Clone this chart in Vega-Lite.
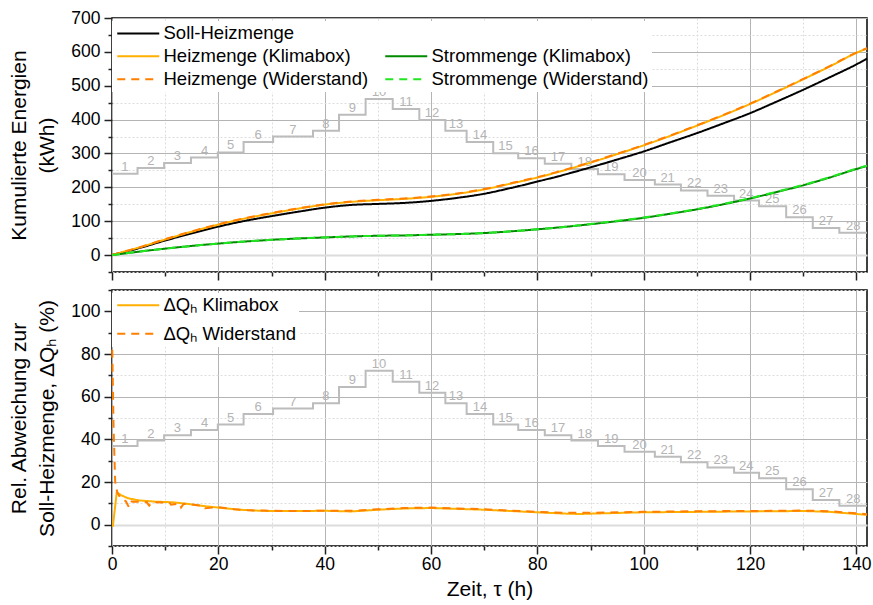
{
  "$schema": "https://vega.github.io/schema/vega-lite/v6.json",
  "background": "white",
  "autosize": {"type": "pad"},
  "padding": {"left": 8, "top": 8, "right": 2, "bottom": 6},
  "config": {
    "font": "Liberation Sans",
    "view": {"stroke": "black", "strokeWidth": 1.5},
    "axis": {
      "labelFont": "Liberation Sans", "labelFontSize": 17.5, "labelColor": "black",
      "titleFont": "Liberation Sans", "titleFontSize": 21, "titleFontWeight": "normal", "titleColor": "black",
      "tickColor": "#222222", "tickWidth": 1.5, "domain": false, "labelPadding": 4, "titleLineHeight": 28
    },
    "legend": {"labelFont": "Liberation Sans", "labelFontSize": 18.5, "labelColor": "black"}
  },
  "datasets": {
    "stufen": [
      {"stufe": 1, "t": 0, "t_mitte": 2.4, "oben": 240, "unten": 36.9},
      {"stufe": 2, "t": 4.8, "t_mitte": 7.3, "oben": 257, "unten": 39.4},
      {"stufe": 3, "t": 9.8, "t_mitte": 12.3, "oben": 272, "unten": 41.9},
      {"stufe": 4, "t": 14.85, "t_mitte": 17.4, "oben": 288, "unten": 44.4},
      {"stufe": 5, "t": 19.9, "t_mitte": 22.3, "oben": 303, "unten": 46.9},
      {"stufe": 6, "t": 24.75, "t_mitte": 27.5, "oben": 334, "unten": 51.9},
      {"stufe": 7, "t": 30.3, "t_mitte": 34.0, "oben": 350, "unten": 54.4},
      {"stufe": 8, "t": 37.8, "t_mitte": 40.2, "oben": 367, "unten": 56.9},
      {"stufe": 9, "t": 42.7, "t_mitte": 45.2, "oben": 414, "unten": 64.5},
      {"stufe": 10, "t": 47.7, "t_mitte": 50.2, "oben": 461, "unten": 72.2},
      {"stufe": 11, "t": 52.8, "t_mitte": 55.3, "oben": 431, "unten": 67.0},
      {"stufe": 12, "t": 57.8, "t_mitte": 60.2, "oben": 399, "unten": 61.8},
      {"stufe": 13, "t": 62.7, "t_mitte": 64.7, "oben": 367, "unten": 56.9},
      {"stufe": 14, "t": 66.7, "t_mitte": 69.2, "oben": 334, "unten": 51.9},
      {"stufe": 15, "t": 71.7, "t_mitte": 74.0, "oben": 301, "unten": 46.9},
      {"stufe": 16, "t": 76.4, "t_mitte": 78.9, "oben": 286, "unten": 44.4},
      {"stufe": 17, "t": 81.4, "t_mitte": 83.9, "oben": 270, "unten": 41.9},
      {"stufe": 18, "t": 86.4, "t_mitte": 88.9, "oben": 254, "unten": 39.4},
      {"stufe": 19, "t": 91.4, "t_mitte": 93.9, "oben": 239, "unten": 36.9},
      {"stufe": 20, "t": 96.4, "t_mitte": 99.2, "oben": 222, "unten": 34.2},
      {"stufe": 21, "t": 102.1, "t_mitte": 104.5, "oben": 208, "unten": 31.8},
      {"stufe": 22, "t": 107.0, "t_mitte": 109.5, "oben": 191, "unten": 29.3},
      {"stufe": 23, "t": 112.0, "t_mitte": 114.5, "oben": 175, "unten": 26.8},
      {"stufe": 24, "t": 117.0, "t_mitte": 119.3, "oben": 161, "unten": 24.3},
      {"stufe": 25, "t": 121.7, "t_mitte": 124.2, "oben": 144, "unten": 21.8},
      {"stufe": 26, "t": 126.8, "t_mitte": 129.3, "oben": 112, "unten": 16.6},
      {"stufe": 27, "t": 131.8, "t_mitte": 134.3, "oben": 80, "unten": 11.6},
      {"stufe": 28, "t": 136.8, "t_mitte": 139.4, "oben": 66, "unten": 8.9},
      {"stufe": null, "t": 142, "t_mitte": null, "oben": 66, "unten": 8.9}
    ],
    "energie": [
      {"reihe": "Soll-Heizmenge", "t": 0, "wert": 0},
      {"reihe": "Soll-Heizmenge", "t": 2, "wert": 8},
      {"reihe": "Soll-Heizmenge", "t": 5, "wert": 20},
      {"reihe": "Soll-Heizmenge", "t": 10, "wert": 43},
      {"reihe": "Soll-Heizmenge", "t": 15, "wert": 64},
      {"reihe": "Soll-Heizmenge", "t": 20, "wert": 84},
      {"reihe": "Soll-Heizmenge", "t": 25, "wert": 101},
      {"reihe": "Soll-Heizmenge", "t": 30, "wert": 115},
      {"reihe": "Soll-Heizmenge", "t": 35, "wert": 128},
      {"reihe": "Soll-Heizmenge", "t": 40, "wert": 140},
      {"reihe": "Soll-Heizmenge", "t": 45, "wert": 148},
      {"reihe": "Soll-Heizmenge", "t": 50, "wert": 151},
      {"reihe": "Soll-Heizmenge", "t": 55, "wert": 154},
      {"reihe": "Soll-Heizmenge", "t": 60, "wert": 160},
      {"reihe": "Soll-Heizmenge", "t": 65, "wert": 169},
      {"reihe": "Soll-Heizmenge", "t": 70, "wert": 181},
      {"reihe": "Soll-Heizmenge", "t": 75, "wert": 198},
      {"reihe": "Soll-Heizmenge", "t": 80, "wert": 217},
      {"reihe": "Soll-Heizmenge", "t": 85, "wert": 237},
      {"reihe": "Soll-Heizmenge", "t": 90, "wert": 259},
      {"reihe": "Soll-Heizmenge", "t": 95, "wert": 282},
      {"reihe": "Soll-Heizmenge", "t": 100, "wert": 306},
      {"reihe": "Soll-Heizmenge", "t": 105, "wert": 333},
      {"reihe": "Soll-Heizmenge", "t": 110, "wert": 360},
      {"reihe": "Soll-Heizmenge", "t": 115, "wert": 389},
      {"reihe": "Soll-Heizmenge", "t": 120, "wert": 419},
      {"reihe": "Soll-Heizmenge", "t": 125, "wert": 453},
      {"reihe": "Soll-Heizmenge", "t": 130, "wert": 488},
      {"reihe": "Soll-Heizmenge", "t": 135, "wert": 525},
      {"reihe": "Soll-Heizmenge", "t": 140, "wert": 563},
      {"reihe": "Soll-Heizmenge", "t": 142, "wert": 580},
      {"reihe": "Heizmenge (Klimabox)", "t": 0, "wert": 0},
      {"reihe": "Heizmenge (Klimabox)", "t": 2, "wert": 9},
      {"reihe": "Heizmenge (Klimabox)", "t": 5, "wert": 22},
      {"reihe": "Heizmenge (Klimabox)", "t": 10, "wert": 46},
      {"reihe": "Heizmenge (Klimabox)", "t": 15, "wert": 69},
      {"reihe": "Heizmenge (Klimabox)", "t": 20, "wert": 90},
      {"reihe": "Heizmenge (Klimabox)", "t": 25, "wert": 108},
      {"reihe": "Heizmenge (Klimabox)", "t": 30, "wert": 123},
      {"reihe": "Heizmenge (Klimabox)", "t": 35, "wert": 137},
      {"reihe": "Heizmenge (Klimabox)", "t": 40, "wert": 149},
      {"reihe": "Heizmenge (Klimabox)", "t": 45, "wert": 157},
      {"reihe": "Heizmenge (Klimabox)", "t": 50, "wert": 162},
      {"reihe": "Heizmenge (Klimabox)", "t": 55, "wert": 166},
      {"reihe": "Heizmenge (Klimabox)", "t": 60, "wert": 172},
      {"reihe": "Heizmenge (Klimabox)", "t": 65, "wert": 181},
      {"reihe": "Heizmenge (Klimabox)", "t": 70, "wert": 194},
      {"reihe": "Heizmenge (Klimabox)", "t": 75, "wert": 211},
      {"reihe": "Heizmenge (Klimabox)", "t": 80, "wert": 229},
      {"reihe": "Heizmenge (Klimabox)", "t": 85, "wert": 250},
      {"reihe": "Heizmenge (Klimabox)", "t": 90, "wert": 273},
      {"reihe": "Heizmenge (Klimabox)", "t": 95, "wert": 298},
      {"reihe": "Heizmenge (Klimabox)", "t": 100, "wert": 324},
      {"reihe": "Heizmenge (Klimabox)", "t": 105, "wert": 352},
      {"reihe": "Heizmenge (Klimabox)", "t": 110, "wert": 382},
      {"reihe": "Heizmenge (Klimabox)", "t": 115, "wert": 413},
      {"reihe": "Heizmenge (Klimabox)", "t": 120, "wert": 446},
      {"reihe": "Heizmenge (Klimabox)", "t": 125, "wert": 482},
      {"reihe": "Heizmenge (Klimabox)", "t": 130, "wert": 519},
      {"reihe": "Heizmenge (Klimabox)", "t": 135, "wert": 557},
      {"reihe": "Heizmenge (Klimabox)", "t": 140, "wert": 597},
      {"reihe": "Heizmenge (Klimabox)", "t": 142, "wert": 610},
      {"reihe": "Strommenge (Klimabox)", "t": 0, "wert": 0},
      {"reihe": "Strommenge (Klimabox)", "t": 2, "wert": 4},
      {"reihe": "Strommenge (Klimabox)", "t": 5, "wert": 10},
      {"reihe": "Strommenge (Klimabox)", "t": 10, "wert": 19},
      {"reihe": "Strommenge (Klimabox)", "t": 15, "wert": 27},
      {"reihe": "Strommenge (Klimabox)", "t": 20, "wert": 34},
      {"reihe": "Strommenge (Klimabox)", "t": 25, "wert": 40},
      {"reihe": "Strommenge (Klimabox)", "t": 30, "wert": 45},
      {"reihe": "Strommenge (Klimabox)", "t": 35, "wert": 49},
      {"reihe": "Strommenge (Klimabox)", "t": 40, "wert": 52},
      {"reihe": "Strommenge (Klimabox)", "t": 45, "wert": 55},
      {"reihe": "Strommenge (Klimabox)", "t": 50, "wert": 57},
      {"reihe": "Strommenge (Klimabox)", "t": 55, "wert": 58},
      {"reihe": "Strommenge (Klimabox)", "t": 60, "wert": 60},
      {"reihe": "Strommenge (Klimabox)", "t": 65, "wert": 62},
      {"reihe": "Strommenge (Klimabox)", "t": 70, "wert": 65},
      {"reihe": "Strommenge (Klimabox)", "t": 75, "wert": 70},
      {"reihe": "Strommenge (Klimabox)", "t": 80, "wert": 76},
      {"reihe": "Strommenge (Klimabox)", "t": 85, "wert": 83},
      {"reihe": "Strommenge (Klimabox)", "t": 90, "wert": 91},
      {"reihe": "Strommenge (Klimabox)", "t": 95, "wert": 100},
      {"reihe": "Strommenge (Klimabox)", "t": 100, "wert": 110},
      {"reihe": "Strommenge (Klimabox)", "t": 105, "wert": 122},
      {"reihe": "Strommenge (Klimabox)", "t": 110, "wert": 135},
      {"reihe": "Strommenge (Klimabox)", "t": 115, "wert": 150},
      {"reihe": "Strommenge (Klimabox)", "t": 120, "wert": 167},
      {"reihe": "Strommenge (Klimabox)", "t": 125, "wert": 186},
      {"reihe": "Strommenge (Klimabox)", "t": 130, "wert": 206},
      {"reihe": "Strommenge (Klimabox)", "t": 135, "wert": 229},
      {"reihe": "Strommenge (Klimabox)", "t": 140, "wert": 254},
      {"reihe": "Strommenge (Klimabox)", "t": 142, "wert": 263},
      {"reihe": "Heizmenge (Widerstand)", "t": 0, "wert": 0},
      {"reihe": "Heizmenge (Widerstand)", "t": 2, "wert": 9},
      {"reihe": "Heizmenge (Widerstand)", "t": 5, "wert": 22},
      {"reihe": "Heizmenge (Widerstand)", "t": 10, "wert": 47},
      {"reihe": "Heizmenge (Widerstand)", "t": 15, "wert": 70},
      {"reihe": "Heizmenge (Widerstand)", "t": 20, "wert": 91},
      {"reihe": "Heizmenge (Widerstand)", "t": 25, "wert": 109},
      {"reihe": "Heizmenge (Widerstand)", "t": 30, "wert": 124},
      {"reihe": "Heizmenge (Widerstand)", "t": 35, "wert": 138},
      {"reihe": "Heizmenge (Widerstand)", "t": 40, "wert": 150},
      {"reihe": "Heizmenge (Widerstand)", "t": 45, "wert": 158},
      {"reihe": "Heizmenge (Widerstand)", "t": 50, "wert": 163},
      {"reihe": "Heizmenge (Widerstand)", "t": 55, "wert": 167},
      {"reihe": "Heizmenge (Widerstand)", "t": 60, "wert": 173},
      {"reihe": "Heizmenge (Widerstand)", "t": 65, "wert": 182},
      {"reihe": "Heizmenge (Widerstand)", "t": 70, "wert": 195},
      {"reihe": "Heizmenge (Widerstand)", "t": 75, "wert": 212},
      {"reihe": "Heizmenge (Widerstand)", "t": 80, "wert": 230},
      {"reihe": "Heizmenge (Widerstand)", "t": 85, "wert": 251},
      {"reihe": "Heizmenge (Widerstand)", "t": 90, "wert": 274},
      {"reihe": "Heizmenge (Widerstand)", "t": 95, "wert": 299},
      {"reihe": "Heizmenge (Widerstand)", "t": 100, "wert": 325},
      {"reihe": "Heizmenge (Widerstand)", "t": 105, "wert": 353},
      {"reihe": "Heizmenge (Widerstand)", "t": 110, "wert": 383},
      {"reihe": "Heizmenge (Widerstand)", "t": 115, "wert": 414},
      {"reihe": "Heizmenge (Widerstand)", "t": 120, "wert": 447},
      {"reihe": "Heizmenge (Widerstand)", "t": 125, "wert": 483},
      {"reihe": "Heizmenge (Widerstand)", "t": 130, "wert": 520},
      {"reihe": "Heizmenge (Widerstand)", "t": 135, "wert": 558},
      {"reihe": "Heizmenge (Widerstand)", "t": 140, "wert": 598},
      {"reihe": "Heizmenge (Widerstand)", "t": 142, "wert": 611},
      {"reihe": "Strommenge (Widerstand)", "t": 0, "wert": 0},
      {"reihe": "Strommenge (Widerstand)", "t": 2, "wert": 4},
      {"reihe": "Strommenge (Widerstand)", "t": 5, "wert": 10},
      {"reihe": "Strommenge (Widerstand)", "t": 10, "wert": 19},
      {"reihe": "Strommenge (Widerstand)", "t": 15, "wert": 27},
      {"reihe": "Strommenge (Widerstand)", "t": 20, "wert": 34},
      {"reihe": "Strommenge (Widerstand)", "t": 25, "wert": 40},
      {"reihe": "Strommenge (Widerstand)", "t": 30, "wert": 45},
      {"reihe": "Strommenge (Widerstand)", "t": 35, "wert": 49},
      {"reihe": "Strommenge (Widerstand)", "t": 40, "wert": 52},
      {"reihe": "Strommenge (Widerstand)", "t": 45, "wert": 55},
      {"reihe": "Strommenge (Widerstand)", "t": 50, "wert": 57},
      {"reihe": "Strommenge (Widerstand)", "t": 55, "wert": 58},
      {"reihe": "Strommenge (Widerstand)", "t": 60, "wert": 60},
      {"reihe": "Strommenge (Widerstand)", "t": 65, "wert": 62},
      {"reihe": "Strommenge (Widerstand)", "t": 70, "wert": 65},
      {"reihe": "Strommenge (Widerstand)", "t": 75, "wert": 70},
      {"reihe": "Strommenge (Widerstand)", "t": 80, "wert": 76},
      {"reihe": "Strommenge (Widerstand)", "t": 85, "wert": 83},
      {"reihe": "Strommenge (Widerstand)", "t": 90, "wert": 92},
      {"reihe": "Strommenge (Widerstand)", "t": 95, "wert": 101},
      {"reihe": "Strommenge (Widerstand)", "t": 100, "wert": 111},
      {"reihe": "Strommenge (Widerstand)", "t": 105, "wert": 123},
      {"reihe": "Strommenge (Widerstand)", "t": 110, "wert": 136},
      {"reihe": "Strommenge (Widerstand)", "t": 115, "wert": 151},
      {"reihe": "Strommenge (Widerstand)", "t": 120, "wert": 168},
      {"reihe": "Strommenge (Widerstand)", "t": 125, "wert": 187},
      {"reihe": "Strommenge (Widerstand)", "t": 130, "wert": 207},
      {"reihe": "Strommenge (Widerstand)", "t": 135, "wert": 230},
      {"reihe": "Strommenge (Widerstand)", "t": 140, "wert": 255},
      {"reihe": "Strommenge (Widerstand)", "t": 142, "wert": 264}
    ],
    "abweichung": [
      {"reihe": "ΔQₕ Klimabox", "t": 0.15, "wert": -1},
      {"reihe": "ΔQₕ Klimabox", "t": 0.9, "wert": 15.2},
      {"reihe": "ΔQₕ Klimabox", "t": 1.7, "wert": 13.8},
      {"reihe": "ΔQₕ Klimabox", "t": 3, "wert": 12.4},
      {"reihe": "ΔQₕ Klimabox", "t": 5, "wert": 11.4},
      {"reihe": "ΔQₕ Klimabox", "t": 8, "wert": 10.8},
      {"reihe": "ΔQₕ Klimabox", "t": 11.4, "wert": 10.5},
      {"reihe": "ΔQₕ Klimabox", "t": 14, "wert": 9.8},
      {"reihe": "ΔQₕ Klimabox", "t": 17.7, "wert": 8.6},
      {"reihe": "ΔQₕ Klimabox", "t": 20.8, "wert": 7.8},
      {"reihe": "ΔQₕ Klimabox", "t": 24, "wert": 7.0},
      {"reihe": "ΔQₕ Klimabox", "t": 27, "wert": 6.6},
      {"reihe": "ΔQₕ Klimabox", "t": 30, "wert": 6.4},
      {"reihe": "ΔQₕ Klimabox", "t": 35, "wert": 6.4},
      {"reihe": "ΔQₕ Klimabox", "t": 40, "wert": 6.5},
      {"reihe": "ΔQₕ Klimabox", "t": 45, "wert": 6.2},
      {"reihe": "ΔQₕ Klimabox", "t": 50, "wert": 7.0},
      {"reihe": "ΔQₕ Klimabox", "t": 55, "wert": 7.6},
      {"reihe": "ΔQₕ Klimabox", "t": 60, "wert": 7.8},
      {"reihe": "ΔQₕ Klimabox", "t": 65, "wert": 7.4},
      {"reihe": "ΔQₕ Klimabox", "t": 70, "wert": 7.0},
      {"reihe": "ΔQₕ Klimabox", "t": 75, "wert": 6.4},
      {"reihe": "ΔQₕ Klimabox", "t": 80, "wert": 5.8},
      {"reihe": "ΔQₕ Klimabox", "t": 85, "wert": 5.2},
      {"reihe": "ΔQₕ Klimabox", "t": 88, "wert": 5.0},
      {"reihe": "ΔQₕ Klimabox", "t": 92, "wert": 5.3},
      {"reihe": "ΔQₕ Klimabox", "t": 100, "wert": 5.8},
      {"reihe": "ΔQₕ Klimabox", "t": 110, "wert": 6.0},
      {"reihe": "ΔQₕ Klimabox", "t": 120, "wert": 6.2},
      {"reihe": "ΔQₕ Klimabox", "t": 130, "wert": 6.4},
      {"reihe": "ΔQₕ Klimabox", "t": 135, "wert": 6.0},
      {"reihe": "ΔQₕ Klimabox", "t": 140, "wert": 5.0},
      {"reihe": "ΔQₕ Klimabox", "t": 142, "wert": 4.6},
      {"reihe": "ΔQₕ Widerstand", "t": 0.05, "wert": 82},
      {"reihe": "ΔQₕ Widerstand", "t": 0.3, "wert": 45},
      {"reihe": "ΔQₕ Widerstand", "t": 0.6, "wert": 20},
      {"reihe": "ΔQₕ Widerstand", "t": 1, "wert": 15},
      {"reihe": "ΔQₕ Widerstand", "t": 1.6, "wert": 12.5},
      {"reihe": "ΔQₕ Widerstand", "t": 2.6, "wert": 11},
      {"reihe": "ΔQₕ Widerstand", "t": 3.2, "wert": 8.1},
      {"reihe": "ΔQₕ Widerstand", "t": 3.7, "wert": 10.8},
      {"reihe": "ΔQₕ Widerstand", "t": 6.5, "wert": 10.6},
      {"reihe": "ΔQₕ Widerstand", "t": 7, "wert": 8.9},
      {"reihe": "ΔQₕ Widerstand", "t": 7.5, "wert": 10.5},
      {"reihe": "ΔQₕ Widerstand", "t": 10.8, "wert": 10.3},
      {"reihe": "ΔQₕ Widerstand", "t": 11.1, "wert": 9.4},
      {"reihe": "ΔQₕ Widerstand", "t": 12.7, "wert": 9.9},
      {"reihe": "ΔQₕ Widerstand", "t": 13, "wert": 8.1},
      {"reihe": "ΔQₕ Widerstand", "t": 13.5, "wert": 9.8},
      {"reihe": "ΔQₕ Widerstand", "t": 17, "wert": 8.9},
      {"reihe": "ΔQₕ Widerstand", "t": 17.5, "wert": 7.7},
      {"reihe": "ΔQₕ Widerstand", "t": 20, "wert": 8.2},
      {"reihe": "ΔQₕ Widerstand", "t": 23, "wert": 7.2},
      {"reihe": "ΔQₕ Widerstand", "t": 26, "wert": 6.7},
      {"reihe": "ΔQₕ Widerstand", "t": 30, "wert": 6.5},
      {"reihe": "ΔQₕ Widerstand", "t": 35, "wert": 6.4},
      {"reihe": "ΔQₕ Widerstand", "t": 40, "wert": 6.5},
      {"reihe": "ΔQₕ Widerstand", "t": 45, "wert": 6.5},
      {"reihe": "ΔQₕ Widerstand", "t": 50, "wert": 7.2},
      {"reihe": "ΔQₕ Widerstand", "t": 55, "wert": 7.8},
      {"reihe": "ΔQₕ Widerstand", "t": 60, "wert": 8.0},
      {"reihe": "ΔQₕ Widerstand", "t": 65, "wert": 7.6},
      {"reihe": "ΔQₕ Widerstand", "t": 70, "wert": 7.2},
      {"reihe": "ΔQₕ Widerstand", "t": 75, "wert": 6.6},
      {"reihe": "ΔQₕ Widerstand", "t": 80, "wert": 6.0},
      {"reihe": "ΔQₕ Widerstand", "t": 85, "wert": 5.6},
      {"reihe": "ΔQₕ Widerstand", "t": 90, "wert": 5.6},
      {"reihe": "ΔQₕ Widerstand", "t": 100, "wert": 6.0},
      {"reihe": "ΔQₕ Widerstand", "t": 110, "wert": 6.3},
      {"reihe": "ΔQₕ Widerstand", "t": 120, "wert": 6.4},
      {"reihe": "ΔQₕ Widerstand", "t": 130, "wert": 6.6},
      {"reihe": "ΔQₕ Widerstand", "t": 135, "wert": 6.3},
      {"reihe": "ΔQₕ Widerstand", "t": 140, "wert": 5.3},
      {"reihe": "ΔQₕ Widerstand", "t": 142, "wert": 4.9}
    ]
  },
  "spacing": 18,
  "bounds": "flush",
  "resolve": {"scale": {"color": "independent", "strokeDash": "independent"}, "legend": {"color": "independent", "strokeDash": "independent"}},
  "vconcat": [
    {
      "width": 755,
      "height": 254,
      "resolve": {"axis": {"x": "independent", "y": "independent"}},
      "layer": [
        {
          "data": {"name": "stufen"},
          "mark": {"type": "line", "interpolate": "step-after", "color": "#bcbcbc", "strokeWidth": 2},
          "encoding": {
            "x": {"field": "t", "type": "quantitative", "scale": {"domain": [0, 142], "nice": false, "zero": false},
              "axis": {"orient": "bottom", "values": [10, 30, 50, 70, 90, 110, 130], "labels": false, "title": null, "tickSize": 4, "grid": true, "gridColor": "#dddddd", "gridDash": [2, 2], "gridWidth": 1}},
            "y": {"field": "oben", "type": "quantitative", "scale": {"domain": [-50, 700], "nice": false, "zero": false},
              "axis": {"orient": "left", "values": [-50, 50, 150, 250, 350, 450, 550, 650], "labels": false, "title": null, "tickSize": 4, "grid": true, "gridColor": "#dddddd", "gridDash": [2, 2], "gridWidth": 1}}
          }
        },
        {
          "data": {"name": "stufen"},
          "transform": [{"filter": "isValid(datum.stufe)"}],
          "mark": {"type": "text", "color": "#b4b4b4", "fontSize": 13, "baseline": "alphabetic", "dy": -3, "align": "center"},
          "encoding": {
            "x": {"field": "t_mitte", "type": "quantitative", "scale": {"domain": [0, 142], "nice": false, "zero": false}, "axis": null},
            "y": {"field": "oben", "type": "quantitative", "scale": {"domain": [-50, 700], "nice": false, "zero": false}, "axis": null},
            "text": {"field": "stufe", "type": "nominal"}
          }
        },
        {
          "data": {"name": "energie"},
          "mark": {"type": "line", "strokeWidth": 2, "interpolate": "monotone"},
          "encoding": {
            "x": {"field": "t", "type": "quantitative", "scale": {"domain": [0, 142], "nice": false, "zero": false},
              "axis": {"orient": "bottom", "values": [0, 20, 40, 60, 80, 100, 120, 140], "labels": false, "title": null, "tickSize": 8, "grid": true, "gridColor": "#b4b4b4", "gridWidth": 1}},
            "y": {"field": "wert", "type": "quantitative", "scale": {"domain": [-50, 700], "nice": false, "zero": false},
              "axis": {"orient": "left", "values": [0, 100, 200, 300, 400, 500, 600, 700], "title": ["Kumulierte Energien", "(kWh)"], "titlePadding": 13, "tickSize": 8, "grid": true,
                "gridColor": {"condition": {"test": "datum.value === 0", "value": "#dcdcdc"}, "value": "#b4b4b4"},
                "gridWidth": {"condition": {"test": "datum.value === 0", "value": 2}, "value": 1}}},
            "color": {"field": "reihe", "type": "nominal",
              "scale": {"domain": ["Soll-Heizmenge", "Heizmenge (Klimabox)", "Heizmenge (Widerstand)", " ", "Strommenge (Klimabox)", "Strommenge (Widerstand)"],
                "range": ["#000000", "#ffb000", "#ff7f00", "rgba(0,0,0,0)", "#008a00", "#22e622"]},
              "legend": {"title": null, "orient": "none", "legendX": 0, "legendY": 3, "columns": 2, "symbolType": "M-1,0H5", "symbolSize": 196, "symbolStrokeWidth": 2, "labelOffset": 30, "rowPadding": 4, "columnPadding": 12, "fillColor": "white", "padding": 3, "labelFontSize": 18.5, "labelLimit": 0}},
            "strokeDash": {"field": "reihe", "type": "nominal",
              "scale": {"domain": ["Soll-Heizmenge", "Heizmenge (Klimabox)", "Heizmenge (Widerstand)", " ", "Strommenge (Klimabox)", "Strommenge (Widerstand)"],
                "range": [[1, 0], [1, 0], [8, 6], [1, 0], [1, 0], [8, 6]]},
              "legend": {"title": null, "orient": "none", "legendX": 0, "legendY": 3, "columns": 2, "symbolType": "M-1,0H5", "symbolSize": 196, "symbolStrokeWidth": 2, "labelOffset": 30, "rowPadding": 4, "columnPadding": 12, "fillColor": "white", "padding": 3, "labelFontSize": 18.5, "labelLimit": 0}}
          }
        }
      ]
    },
    {
      "width": 755,
      "height": 256,
      "resolve": {"axis": {"x": "independent", "y": "independent"}},
      "layer": [
        {
          "data": {"name": "stufen"},
          "mark": {"type": "line", "interpolate": "step-after", "color": "#bcbcbc", "strokeWidth": 2},
          "encoding": {
            "x": {"field": "t", "type": "quantitative", "scale": {"domain": [0, 142], "nice": false, "zero": false},
              "axis": {"orient": "bottom", "values": [10, 30, 50, 70, 90, 110, 130], "labels": false, "title": null, "tickSize": 4, "grid": true, "gridColor": "#dddddd", "gridDash": [2, 2], "gridWidth": 1}},
            "y": {"field": "unten", "type": "quantitative", "scale": {"domain": [-10, 110], "nice": false, "zero": false},
              "axis": {"orient": "left", "values": [-10, 10, 30, 50, 70, 90, 110], "labels": false, "title": null, "tickSize": 4, "grid": true, "gridColor": "#dddddd", "gridDash": [2, 2], "gridWidth": 1}}
          }
        },
        {
          "data": {"name": "stufen"},
          "transform": [{"filter": "isValid(datum.stufe)"}],
          "mark": {"type": "text", "color": "#b4b4b4", "fontSize": 13, "baseline": "alphabetic", "dy": -3, "align": "center"},
          "encoding": {
            "x": {"field": "t_mitte", "type": "quantitative", "scale": {"domain": [0, 142], "nice": false, "zero": false}, "axis": null},
            "y": {"field": "unten", "type": "quantitative", "scale": {"domain": [-10, 110], "nice": false, "zero": false}, "axis": null},
            "text": {"field": "stufe", "type": "nominal"}
          }
        },
        {
          "data": {"name": "abweichung"},
          "mark": {"type": "line", "strokeWidth": 2},
          "encoding": {
            "x": {"field": "t", "type": "quantitative", "scale": {"domain": [0, 142], "nice": false, "zero": false},
              "axis": {"orient": "bottom", "values": [0, 20, 40, 60, 80, 100, 120, 140], "labelFlush": false, "labelPadding": 1, "title": "Zeit, τ (h)", "titlePadding": 6, "tickSize": 8, "grid": true, "gridColor": "#b4b4b4", "gridWidth": 1}},
            "y": {"field": "wert", "type": "quantitative", "scale": {"domain": [-10, 110], "nice": false, "zero": false},
              "axis": {"orient": "left", "values": [0, 20, 40, 60, 80, 100], "title": ["Rel. Abweichung zur", "Soll-Heizmenge, ΔQₕ (%)"], "titlePadding": 13, "tickSize": 8, "grid": true,
                "gridColor": {"condition": {"test": "datum.value === 0", "value": "#dcdcdc"}, "value": "#b4b4b4"},
                "gridWidth": {"condition": {"test": "datum.value === 0", "value": 2}, "value": 1}}},
            "color": {"field": "reihe", "type": "nominal",
              "scale": {"domain": ["ΔQₕ Klimabox", "ΔQₕ Widerstand"], "range": ["#ffb000", "#ff7f00"]},
              "legend": {"title": null, "orient": "none", "legendX": 0, "legendY": 3, "symbolType": "M-1,0H5", "symbolSize": 196, "symbolStrokeWidth": 2, "labelOffset": 30, "rowPadding": 9.5, "fillColor": "white", "padding": 3, "labelFontSize": 18.5, "labelLimit": 0}},
            "strokeDash": {"field": "reihe", "type": "nominal",
              "scale": {"domain": ["ΔQₕ Klimabox", "ΔQₕ Widerstand"], "range": [[1, 0], [8, 6]]},
              "legend": {"title": null, "orient": "none", "legendX": 0, "legendY": 3, "symbolType": "M-1,0H5", "symbolSize": 196, "symbolStrokeWidth": 2, "labelOffset": 30, "rowPadding": 9.5, "fillColor": "white", "padding": 3, "labelFontSize": 18.5, "labelLimit": 0}}
          }
        }
      ]
    }
  ]
}
